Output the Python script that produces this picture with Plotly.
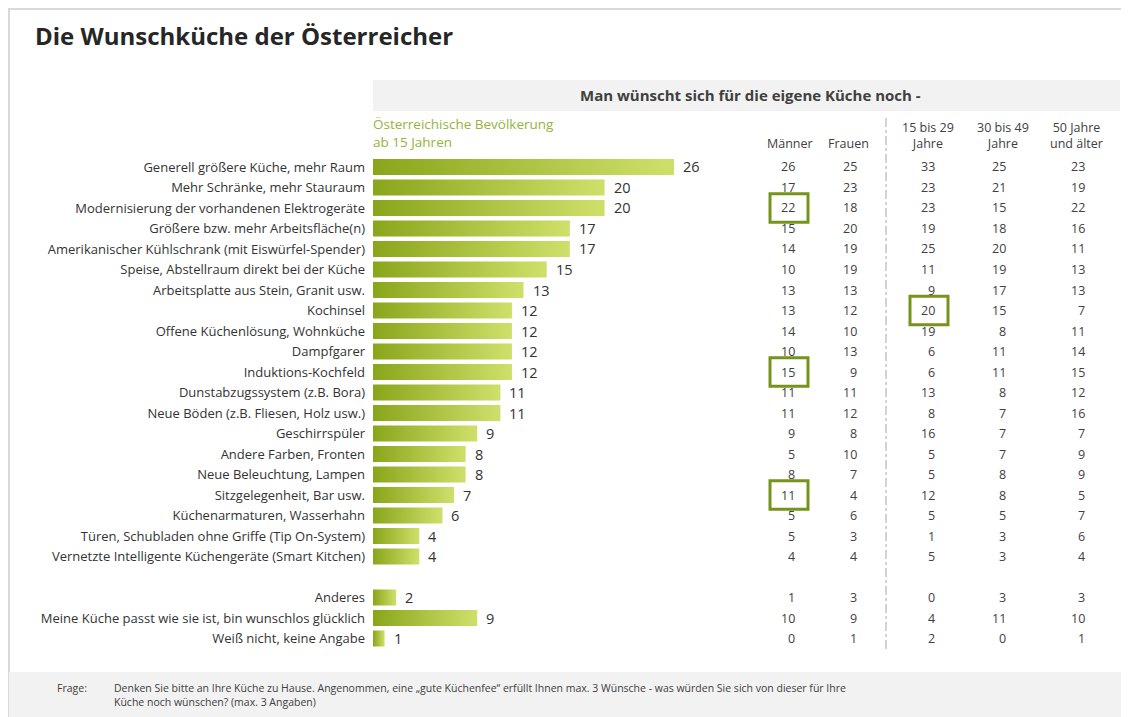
import plotly.graph_objects as go

# ---------------- data ----------------
categories = [
    "Generell größere Küche, mehr Raum",
    "Mehr Schränke, mehr Stauraum",
    "Modernisierung der vorhandenen Elektrogeräte",
    "Größere bzw. mehr Arbeitsfläche(n)",
    "Amerikanischer Kühlschrank (mit Eiswürfel-Spender)",
    "Speise, Abstellraum direkt bei der Küche",
    "Arbeitsplatte aus Stein, Granit usw.",
    "Kochinsel",
    "Offene Küchenlösung, Wohnküche",
    "Dampfgarer",
    "Induktions-Kochfeld",
    "Dunstabzugssystem (z.B. Bora)",
    "Neue Böden (z.B. Fliesen, Holz usw.)",
    "Geschirrspüler",
    "Andere Farben, Fronten",
    "Neue Beleuchtung, Lampen",
    "Sitzgelegenheit, Bar usw.",
    "Küchenarmaturen, Wasserhahn",
    "Türen, Schubladen ohne Griffe (Tip On-System)",
    "Vernetzte Intelligente Küchengeräte (Smart Kitchen)",
    "Anderes",
    "Meine Küche passt wie sie ist, bin wunschlos glücklich",
    "Weiß nicht, keine Angabe",
]
total     = [26, 20, 20, 17, 17, 15, 13, 12, 12, 12, 12, 11, 11, 9, 8, 8, 7, 6, 4, 4, 2, 9, 1]
maenner   = [26, 17, 22, 15, 14, 10, 13, 13, 14, 10, 15, 11, 11, 9, 5, 8, 11, 5, 5, 4, 1, 10, 0]
frauen    = [25, 23, 18, 20, 19, 19, 13, 12, 10, 13, 9, 11, 12, 8, 10, 7, 4, 6, 3, 4, 3, 9, 1]
age_15_29 = [33, 23, 23, 19, 25, 11, 9, 20, 19, 6, 6, 13, 8, 16, 5, 5, 12, 5, 1, 5, 0, 4, 2]
age_30_49 = [25, 21, 15, 18, 20, 19, 17, 15, 8, 11, 11, 8, 7, 7, 7, 8, 8, 5, 3, 3, 3, 11, 0]
age_50    = [23, 19, 22, 16, 11, 13, 13, 7, 11, 14, 15, 12, 16, 7, 9, 9, 5, 7, 6, 4, 3, 10, 1]

column_headers = ["Männer", "Frauen", "15 bis 29<br>Jahre", "30 bis 49<br>Jahre", "50 Jahre<br>und älter"]
column_values = [maenner, frauen, age_15_29, age_30_49, age_50]
# highlighted cells: (column index, row index)
highlights = [(0, 2), (0, 10), (0, 16), (2, 7)]

title = "Die Wunschküche der Österreicher"
band_title = "Man wünscht sich für die eigene Küche noch -"
series_title = "Österreichische Bevölkerung<br>ab 15 Jahren"
footer_label = "Frage:"
footer_text = ("Denken Sie bitte an Ihre Küche zu Hause. Angenommen, eine „gute Küchenfee“ erfüllt Ihnen max. 3 Wünsche - "
               "was würden Sie sich von dieser für Ihre<br>Küche noch wünschen? (max. 3 Angaben)")

# ---------------- layout helpers ----------------
# the page body has an 8px margin, so the figure is drawn 8px in from the window edge
OFF = 8
W, H = 1129 - OFF, 717 - OFF
FONT = "Open Sans"
def px(x):
    return (x - OFF) / W
def py(y):
    return 1 - (y - OFF) / H

# slot positions: one empty slot between the main list and the last three answers
slots = [i if i < 20 else i + 1 for i in range(len(categories))]

DARK = "#8aa51b"
LIGHT = "#cfe06a"
half = 0.39

fig = go.Figure()

for cat, v, s in zip(categories, total, slots):
    fig.add_trace(go.Scatter(
        x=[0, v, v, 0, 0],
        y=[s - half, s - half, s + half, s + half, s - half],
        mode="lines",
        line=dict(width=0, color=DARK),
        fill="toself",
        fillgradient=dict(type="horizontal", colorscale=[[0, DARK], [1, LIGHT]]),
        hoverinfo="text",
        text=f"{cat}: {v}",
        showlegend=False,
    ))

annotations = []
# value labels next to bars
for v, s in zip(total, slots):
    annotations.append(dict(x=v, y=s, xref="x", yref="y", text=str(v), showarrow=False,
                            xanchor="left", yanchor="middle", xshift=7,
                            font=dict(family=FONT, size=14.5, color="#333333")))

# table columns
col_right = [797, 859, 937, 1008, 1087]
col_center = [790, 848, 928, 1003, 1076]
for hdr, vals, xr, xc in zip(column_headers, column_values, col_right, col_center):
    annotations.append(dict(x=px(xc), y=py(154), xref="paper", yref="paper", text=hdr, showarrow=False,
                            xanchor="center", yanchor="bottom", align="center",
                            font=dict(family=FONT, size=12.5, color="#404040")))
    for v, s in zip(vals, slots):
        annotations.append(dict(x=px(xr), y=s, xref="paper", yref="y", text=str(v), showarrow=False,
                                xanchor="right", yanchor="middle",
                                font=dict(family=FONT, size=12.5, color="#404040")))

# titles
annotations.append(dict(x=px(33), y=py(35), xref="paper", yref="paper", text=f"<b>{title}</b>",
                        showarrow=False, xanchor="left", yanchor="middle",
                        font=dict(family=FONT, size=24, color="#262626")))
annotations.append(dict(x=px(750), y=py(95), xref="paper", yref="paper", text=f"<b>{band_title}</b>",
                        showarrow=False, xanchor="center", yanchor="middle",
                        font=dict(family=FONT, size=15, color="#404040")))
annotations.append(dict(x=px(371), y=py(153), xref="paper", yref="paper", text=series_title,
                        showarrow=False, xanchor="left", yanchor="bottom", align="left",
                        font=dict(family=FONT, size=13.5, color="#94b43a")))
annotations.append(dict(x=px(55), y=py(679), xref="paper", yref="paper", text=footer_label,
                        showarrow=False, xanchor="left", yanchor="top",
                        font=dict(family=FONT, size=10.5, color="#404040")))
annotations.append(dict(x=px(112), y=py(679), xref="paper", yref="paper", text=footer_text,
                        showarrow=False, xanchor="left", yanchor="top", align="left",
                        font=dict(family=FONT, size=10.5, color="#404040")))

shapes = [
    # slide frame
    dict(type="rect", xref="paper", yref="paper", x0=px(9), x1=px(1145), y0=py(740), y1=py(9),
         line=dict(color="#d9d9d9", width=2), fillcolor="rgba(0,0,0,0)", layer="below"),
    # header band
    dict(type="rect", xref="paper", yref="paper", x0=px(373), x1=px(1120), y0=py(111), y1=py(80),
         line=dict(width=0), fillcolor="#f2f2f2", layer="below"),
    # footer band
    dict(type="rect", xref="paper", yref="paper", x0=px(9), x1=px(1140), y0=py(740), y1=py(672),
         line=dict(width=0), fillcolor="#f2f2f2", layer="below"),
    # dashed separator
    dict(type="line", xref="paper", yref="paper", x0=px(886), x1=px(886), y0=py(118), y1=py(652),
         line=dict(color="#a6a6a6", width=1, dash="dashdot")),
]
for ci, ri in highlights:
    xr = col_right[ci]
    shapes.append(dict(type="rect", xref="paper", yref="y", x0=px(xr - 27), x1=px(xr + 11),
                       y0=slots[ri] - 0.7, y1=slots[ri] + 0.7,
                       line=dict(color="#76941b", width=3), fillcolor="rgba(0,0,0,0)"))

y_top, y_bottom = 156.75, 648.75
fig.update_layout(
    width=W, height=H,
    margin=dict(l=0, r=0, t=0, b=0),
    paper_bgcolor="white", plot_bgcolor="rgba(0,0,0,0)",
    showlegend=False,
    xaxis=dict(domain=[px(373), px(373 + 30 * 11.58)], range=[0, 30], visible=False, fixedrange=True),
    yaxis=dict(domain=[py(y_bottom), py(y_top)], range=[23.5, -0.5],
               tickmode="array", tickvals=slots, ticktext=categories,
               showgrid=False, zeroline=False, showline=False, ticks="",
               ticklabelstandoff=7,
               tickfont=dict(family=FONT, size=13, color="#333333"), fixedrange=True),
    annotations=annotations,
    shapes=shapes,
)

fig.write_html("out.html")
